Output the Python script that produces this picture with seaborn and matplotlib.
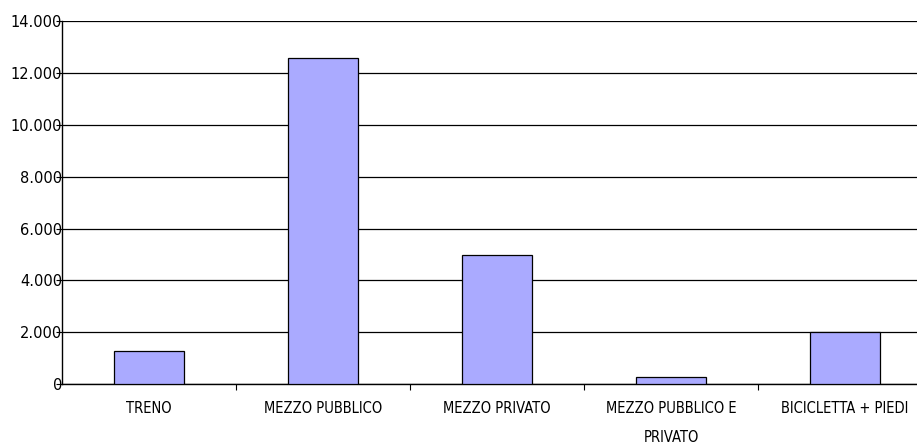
import numpy as np
import pandas as pd
import seaborn as sns
import matplotlib.pyplot as plt
from matplotlib.ticker import FuncFormatter, FixedLocator

categorie = ["TRENO", "MEZZO PUBBLICO", "MEZZO PRIVATO",
             "MEZZO PUBBLICO E\nPRIVATO", "BICICLETTA + PIEDI"]
valori = [1290, 12600, 4970, 280, 2020]
y_ticks = [0, 2000, 4000, 6000, 8000, 10000, 12000, 14000]

sns.set_style("white")
plt.rcParams['font.family'] = ['DejaVu Sans']

df = pd.DataFrame({"mezzo": categorie, "valore": valori})

fig = plt.figure(figsize=(9.17, 4.44), dpi=100)
# the plot area runs past the right edge of the picture, as in the original
ax = fig.add_axes([0.0676, 0.135, 0.9488, 0.8166])

sns.barplot(data=df, x="mezzo", y="valore", color="#AAAAFF", saturation=1,
            edgecolor="black", linewidth=0.9, width=0.40, ax=ax, zorder=3)

ax.set_xlim(-0.5, 4.5)
ax.set_ylim(0, 14000)
ax.set_yticks(y_ticks)
ax.yaxis.set_major_formatter(FuncFormatter(lambda v, p: f"{int(v):,}".replace(",", ".")))
ax.grid(axis="y", color="black", linewidth=0.9, zorder=0)
ax.set_axisbelow(True)

for s in ["top", "right"]:
    ax.spines[s].set_visible(False)
for s in ["left", "bottom"]:
    ax.spines[s].set_color("black")
    ax.spines[s].set_linewidth(1.0)

ax.set_xlabel("")
ax.set_ylabel("")
ax.tick_params(axis="x", which="major", length=0, pad=12)
ax.xaxis.set_minor_locator(FixedLocator([0.5, 1.5, 2.5, 3.5]))
ax.tick_params(axis="x", which="minor", length=4, width=0.8, color="black", direction="out", bottom=True)
ax.tick_params(axis="y", length=4, width=0.8, color="black", direction="out", left=True, pad=-4)

for lab in ax.get_xticklabels():
    lab.set_fontstretch("condensed")
    lab.set_fontsize(10.5)
    lab.set_linespacing(2.2)
    lab.set_verticalalignment("top")
    lab.set_color("black")
for lab in ax.get_yticklabels():
    lab.set_fontstretch("normal")
    lab.set_fontsize(10.5)
    lab.set_color("black")

fig.savefig("out.png", dpi=100)
